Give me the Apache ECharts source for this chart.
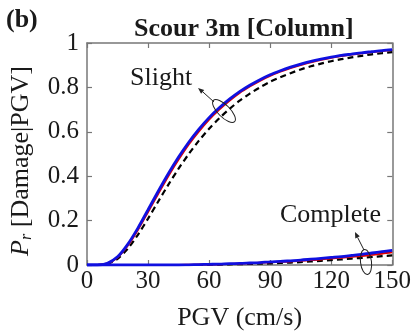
<!DOCTYPE html>
<html><head><meta charset="utf-8">
<script src="https://cdn.jsdelivr.net/npm/echarts@6/dist/echarts.min.js"></script>
<style>html,body{margin:0;padding:0;background:#fff}#c{width:414px;height:336px}</style>
</head><body><div id="c"></div>
<script>
var pgv = [0,5,10,15,20,25,30,35,40,45,50,55,60,65,70,75,80,85,90,95,100,105,110,115,120,125,130,135,140,145,150];
var slightBlue = [0,0,0.008,0.037,0.093,0.166,0.249,0.332,0.412,0.486,0.553,0.612,0.664,0.708,0.747,0.781,0.810,0.835,0.857,0.875,0.891,0.905,0.917,0.927,0.936,0.944,0.950,0.956,0.961,0.966,0.970];
var slightRed = [0,0,0.007,0.034,0.087,0.158,0.239,0.321,0.401,0.475,0.543,0.602,0.655,0.700,0.740,0.775,0.804,0.830,0.852,0.871,0.887,0.901,0.913,0.924,0.933,0.941,0.948,0.954,0.959,0.964,0.968];
var slightBlack = [0,0,0.005,0.028,0.073,0.136,0.209,0.286,0.362,0.434,0.500,0.560,0.614,0.661,0.703,0.740,0.772,0.800,0.825,0.846,0.864,0.881,0.895,0.907,0.918,0.927,0.935,0.942,0.949,0.954,0.959];
var completeBlue = [0,0,0,0,0,0,0,0,0,0,0.001,0.002,0.003,0.004,0.006,0.007,0.009,0.011,0.014,0.016,0.019,0.022,0.026,0.030,0.034,0.038,0.043,0.048,0.054,0.060,0.066];
var completeRed = [0,0,0,0,0,0,0,0,0,0,0.001,0.002,0.002,0.003,0.005,0.006,0.008,0.010,0.012,0.014,0.016,0.019,0.022,0.025,0.029,0.033,0.037,0.041,0.046,0.051,0.057];
var completeBlack = [0,0,0,0,0,0,0,0,0,0,0,0,0.001,0.002,0.003,0.004,0.005,0.006,0.007,0.009,0.011,0.013,0.016,0.019,0.022,0.025,0.029,0.032,0.036,0.040,0.043];
var xTicks = [0,30,60,90,120,150];
var yTicks = [0,0.2,0.4,0.6,0.8,1];

function pairs(ys){ return pgv.map(function(x,i){return [x, ys[i]];}); }
var FONT = 'Liberation Serif';
var AX = '#777';
var TXT = '#1a1a1a';
var chart = echarts.init(document.getElementById('c'), null, {renderer:'canvas'});
function line(name, ys, color, width, dashed, z){
  return {type:'line', name:name, data:pairs(ys), showSymbol:false, smooth:0.3, z:z,
    lineStyle:{color:color, width:width, type: dashed ? [6,4] : 'solid'}};
}
var option = {
  animation:false,
  backgroundColor:'#fff',
  title:{text:'Scour 3m [Column]', left:129, top:11,
    textStyle:{fontFamily:FONT, fontWeight:'bold', fontSize:26, color:TXT}},
  grid:{left:78, right:15, top:43, bottom:64},
  xAxis:[{type:'value', min:0, max:150, interval:30,
    name:'PGV (cm/s)', nameLocation:'middle', nameGap:40,
    nameTextStyle:{fontFamily:FONT, fontSize:26, color:TXT},
    axisLine:{show:true, onZero:false, lineStyle:{color:AX, width:1.5}},
    axisTick:{show:true, inside:true, length:5, lineStyle:{color:AX, width:1.2}},
    axisLabel:{fontFamily:FONT, fontSize:25, color:TXT, margin:4,
      formatter:function(v){return xTicks.indexOf(v)>=0 ? String(v) : '';}},
    splitLine:{show:false}},
   {type:'value', position:'top', min:0, max:150, interval:30,
    axisLine:{show:true, onZero:false, lineStyle:{color:AX, width:1.5}},
    axisTick:{show:true, inside:true, length:5, lineStyle:{color:AX, width:1.2}},
    axisLabel:{show:false}, splitLine:{show:false}}],
  yAxis:[{type:'value', min:0, max:1, interval:0.2,
    name:'{i|P}{s|r} [Damage|PGV]', nameLocation:'middle', nameGap:52, nameRotate:90,
    nameTextStyle:{fontFamily:FONT, fontSize:26, color:TXT, padding:[0,0,0,-14],
      rich:{i:{fontFamily:FONT, fontStyle:'italic', fontSize:26, color:TXT},
            s:{fontFamily:FONT, fontStyle:'italic', fontSize:16, color:TXT, verticalAlign:'bottom', padding:[12,0,0,0]}}},
    axisLine:{show:true, onZero:false, lineStyle:{color:AX, width:1.5}},
    axisTick:{show:true, inside:true, length:5, lineStyle:{color:AX, width:1.2}},
    axisLabel:{fontFamily:FONT, fontSize:25, color:TXT, margin:8,
      formatter:function(v){var r=Math.round(v*10)/10; return yTicks.indexOf(r)>=0 ? String(r) : '';}},
    splitLine:{show:false}},
   {type:'value', position:'right', min:0, max:1, interval:0.2,
    axisLine:{show:true, onZero:false, lineStyle:{color:AX, width:1.5}},
    axisTick:{show:true, inside:true, length:5, lineStyle:{color:AX, width:1.2}},
    axisLabel:{show:false}, splitLine:{show:false}}],
  series:[
    line('Slight model A', slightBlack, '#000', 2.2, true, 2),
    line('Complete model A', completeBlack, '#000', 2.2, true, 2),
    line('Slight model B', slightRed, '#e00000', 2, false, 3),
    line('Complete model B', completeRed, '#e00000', 2, false, 3),
    line('Slight model C', slightBlue, '#1010e0', 2.8, false, 4),
    line('Complete model C', completeBlue, '#1010e0', 2.8, false, 4)
  ],
  graphic:[
    {type:'text', left:6, top:7, style:{text:'(b)', font:'bold 26px "Liberation Serif"', fill:TXT}},
    {type:'text', x:130, y:65, style:{text:'Slight', font:'26px "Liberation Serif"', fill:TXT}},
    {type:'text', x:280, y:202, style:{text:'Complete', font:'26px "Liberation Serif"', fill:TXT}},
    {type:'ellipse', x:224, y:111, rotation:-Math.PI/4, shape:{cx:0, cy:0, rx:15, ry:6},
      style:{fill:'none', stroke:'#222', lineWidth:1}, z:10},
    {type:'ellipse', x:366, y:262, rotation:0.12, shape:{cx:0, cy:0, rx:5.5, ry:12.5},
      style:{fill:'none', stroke:'#222', lineWidth:1}, z:10},
    {type:'line', shape:{x1:214, y1:102, x2:202.7, y2:91.8}, style:{stroke:'#222', lineWidth:1}, z:10},
    {type:'polygon', shape:{points:[[198,88],[204.2,89.9],[201.1,93.7]]}, style:{fill:'#222'}, z:10},
    {type:'line', shape:{x1:364, y1:250, x2:357.6, y2:237.4}, style:{stroke:'#222', lineWidth:1}, z:10},
    {type:'polygon', shape:{points:[[355,232],[359.8,236.3],[355.3,238.5]]}, style:{fill:'#222'}, z:10}
  ]
};
chart.setOption(option);
</script></body></html>
